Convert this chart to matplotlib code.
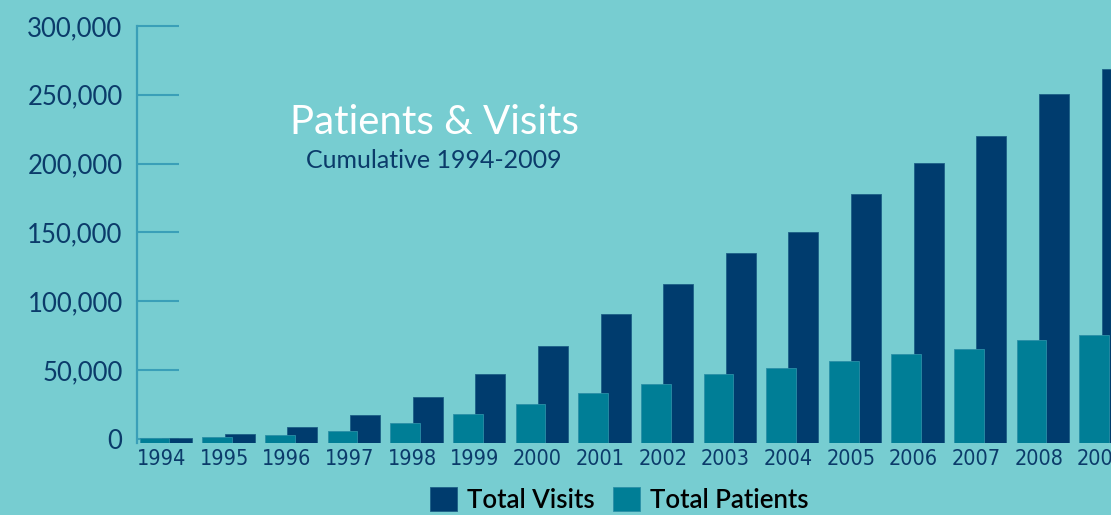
import matplotlib
matplotlib.use("Agg")
import matplotlib.pyplot as plt
import numpy as np

years = ["1994", "1995", "1996", "1997", "1998", "1999", "2000", "2001",
         "2002", "2003", "2004", "2005", "2006", "2007", "2008", "2009"]
total_visits = [700, 3300, 8900, 17100, 30400, 46800, 67500, 90400,
                112500, 135000, 150400, 177900, 200400, 220100, 250600, 269000]
total_patients = [400, 1000, 2800, 5700, 11300, 17800, 25500, 33200,
                  40200, 47000, 51800, 56900, 61500, 65400, 72100, 75700]
y_ticks = [0, 50000, 100000, 150000, 200000, 250000, 300000]
y_tick_labels = ["0", "50,000", "100,000", "150,000", "200,000", "250,000", "300,000"]

BG = "#77CDD1"
NAVY = "#003C6E"
TEAL = "#007E96"
AXIS_C = "#3A9FB8"
LABEL_C = "#0B3B6A"

W, H = 1111, 515
fig = plt.figure(figsize=(W / 100, H / 100), dpi=100)
fig.patch.set_facecolor(BG)

left_px, top_px, bottom_px = 136.5, 26, 443
ax = fig.add_axes([left_px / W, 1 - bottom_px / H, (W - left_px) / W, (bottom_px - top_px) / H])
ax.set_facecolor(BG)

YMIN, YMAX = -3000, 300000
x = np.arange(len(years))
pw, vw, voff = 0.474, 0.479, 0.356
base = YMIN
bv = ax.bar(x + voff, np.array(total_visits) - base, bottom=base, width=vw, align="edge",
            color=NAVY, edgecolor="#1d5f86", linewidth=0.6, zorder=3, label="Total Visits")
bp = ax.bar(x, np.array(total_patients) - base, bottom=base, width=pw, align="edge",
            color=TEAL, edgecolor="#2a8fa6", linewidth=0.6, zorder=4, label="Total Patients")

ax.set_xlim(-0.051, 15.504)
ax.set_ylim(YMIN, YMAX)

for s in ["top", "right", "bottom"]:
    ax.spines[s].set_visible(False)
ax.spines["left"].set_color(AXIS_C)
ax.spines["left"].set_linewidth(1.6)

ax.set_yticks(y_ticks)
ax.set_yticklabels(y_tick_labels, fontfamily="Lato", fontsize=18.5, color=LABEL_C)
ax.tick_params(axis="y", direction="in", length=30, width=1.5, color=AXIS_C, pad=10)

ax.set_xticks(x + 0.35)
ax.set_xticklabels(years, fontfamily="DejaVu Sans", fontstretch="condensed", fontsize=15.5,
                   color=LABEL_C)
ax.tick_params(axis="x", length=0, pad=4)

fig.text(434 / W, 1 - 122 / H, "Patients & Visits", ha="center", va="center",
         fontfamily="Lato", fontsize=29, color="white")
fig.text(433.5 / W, 1 - 161 / H, "Cumulative 1994-2009", ha="center", va="center",
         fontfamily="Lato", fontweight="normal", fontsize=18, color=LABEL_C)

leg = fig.legend(handles=[bv, bp], labels=["Total Visits", "Total Patients"],
                 loc="upper left", bbox_to_anchor=(430 / W, 1 - 487 / H),
                 bbox_transform=fig.transFigure, ncol=2, frameon=False,
                 borderpad=0, borderaxespad=0, handlelength=1.05, handleheight=1.05,
                 handletextpad=0.4, columnspacing=0.7,
                 prop={"family": "Lato", "weight": "semibold", "size": 18.5})
for t in leg.get_texts():
    t.set_color("black")

fig.savefig("out.png", dpi=100, facecolor=BG)
